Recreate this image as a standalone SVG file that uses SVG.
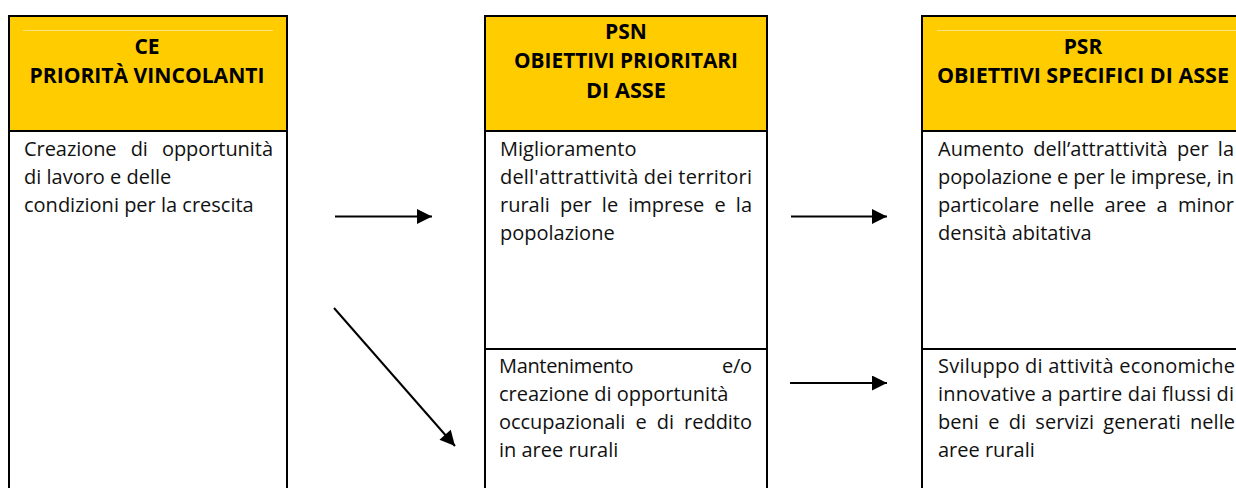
<svg xmlns="http://www.w3.org/2000/svg" width="1236" height="488" viewBox="0 0 1236 488">
<style>
.box{fill:#fff;stroke:#000;stroke-width:2}
.hdr{fill:#FFCC00;stroke:#000;stroke-width:2}
.faint{stroke:#FFE27A;stroke-width:1}
.h{font-family:"Open Sans","Noto Sans",sans-serif;font-weight:bold;font-size:21px;fill:#000;text-anchor:middle}
.t{font-family:"Open Sans","Noto Sans",sans-serif;font-size:20px;fill:#111}
.div{stroke:#000;stroke-width:2}
.conn line{stroke:#000;stroke-width:2;marker-end:url(#ah)}
</style>
<defs>
<marker id="ah" viewBox="0 0 10 10" refX="10" refY="5" markerUnits="userSpaceOnUse" markerWidth="16" markerHeight="15" orient="auto">
<path d="M0,0 L10,5 L0,10 Z" fill="#000"/>
</marker>
</defs>
<rect width="1236" height="488" fill="#fff"/>

<g id="ce">
<rect class="box" x="9" y="16" width="278" height="500"/>
<rect class="hdr" x="9" y="16" width="278" height="115"/>
<line class="faint" x1="23" y1="30.5" x2="273" y2="30.5"/>
<text class="h" x="147" y="54">CE</text>
<text class="h" x="147" y="83" textLength="235" lengthAdjust="spacingAndGlyphs">PRIORITÀ VINCOLANTI</text>
<text class="t" x="24" y="156" textLength="249" lengthAdjust="spacing" word-spacing="9">Creazione di opportunità</text>
<text class="t" x="24" y="184">di lavoro e delle</text>
<text class="t" x="24" y="212">condizioni per la crescita</text>
</g>

<g id="psn">
<rect class="box" x="485" y="16" width="282" height="500"/>
<rect class="hdr" x="485" y="16" width="282" height="115"/>
<line class="div" x1="485" y1="349" x2="767" y2="349"/>
<text class="h" x="626" y="39">PSN</text>
<text class="h" x="626" y="68" textLength="224" lengthAdjust="spacingAndGlyphs">OBIETTIVI PRIORITARI</text>
<text class="h" x="626" y="98" textLength="80" lengthAdjust="spacingAndGlyphs">DI ASSE</text>
<text class="t" x="500" y="156">Miglioramento</text>
<text class="t" x="500" y="184" textLength="252" lengthAdjust="spacing">dell'attrattività dei territori</text>
<text class="t" x="500" y="212" textLength="252" lengthAdjust="spacing" word-spacing="5">rurali per le imprese e la</text>
<text class="t" x="500" y="240">popolazione</text>
<text class="t" x="499" y="373" textLength="253" lengthAdjust="spacing" word-spacing="84">Mantenimento e/o</text>
<text class="t" x="499" y="401">creazione di opportunità</text>
<text class="t" x="499" y="429" textLength="253" lengthAdjust="spacing" word-spacing="5">occupazionali e di reddito</text>
<text class="t" x="499" y="457">in aree rurali</text>
</g>

<g id="psr">
<rect class="box" x="922" y="16" width="330" height="500"/>
<rect class="hdr" x="922" y="16" width="330" height="115"/>
<line class="faint" x1="937" y1="30.5" x2="1236" y2="30.5"/>
<line class="div" x1="922" y1="349" x2="1236" y2="349"/>
<text class="h" x="1083" y="54">PSR</text>
<text class="h" x="1083" y="83" textLength="292" lengthAdjust="spacingAndGlyphs">OBIETTIVI SPECIFICI DI ASSE</text>
<text class="t" x="938" y="156" textLength="296" lengthAdjust="spacing" word-spacing="4">Aumento dell’attrattività per la</text>
<text class="t" x="938" y="184" textLength="296" lengthAdjust="spacing">popolazione e per le imprese, in</text>
<text class="t" x="938" y="212" textLength="296" lengthAdjust="spacing" word-spacing="5">particolare nelle aree a minor</text>
<text class="t" x="938" y="240">densità abitativa</text>
<text class="t" x="938" y="373" textLength="297" lengthAdjust="spacing">Sviluppo di attività economiche</text>
<text class="t" x="938" y="401" textLength="296" lengthAdjust="spacing">innovative a partire dai flussi di</text>
<text class="t" x="938" y="429" textLength="297" lengthAdjust="spacing" word-spacing="4">beni e di servizi generati nelle</text>
<text class="t" x="938" y="457">aree rurali</text>
</g>

<g id="connectors" class="conn">
<line x1="335" y1="216.5" x2="432" y2="216.5"/>
<line x1="334" y1="308" x2="455" y2="446"/>
<line x1="791" y1="216.5" x2="887" y2="216.5"/>
<line x1="790" y1="383" x2="887" y2="383"/>
</g>
</svg>
